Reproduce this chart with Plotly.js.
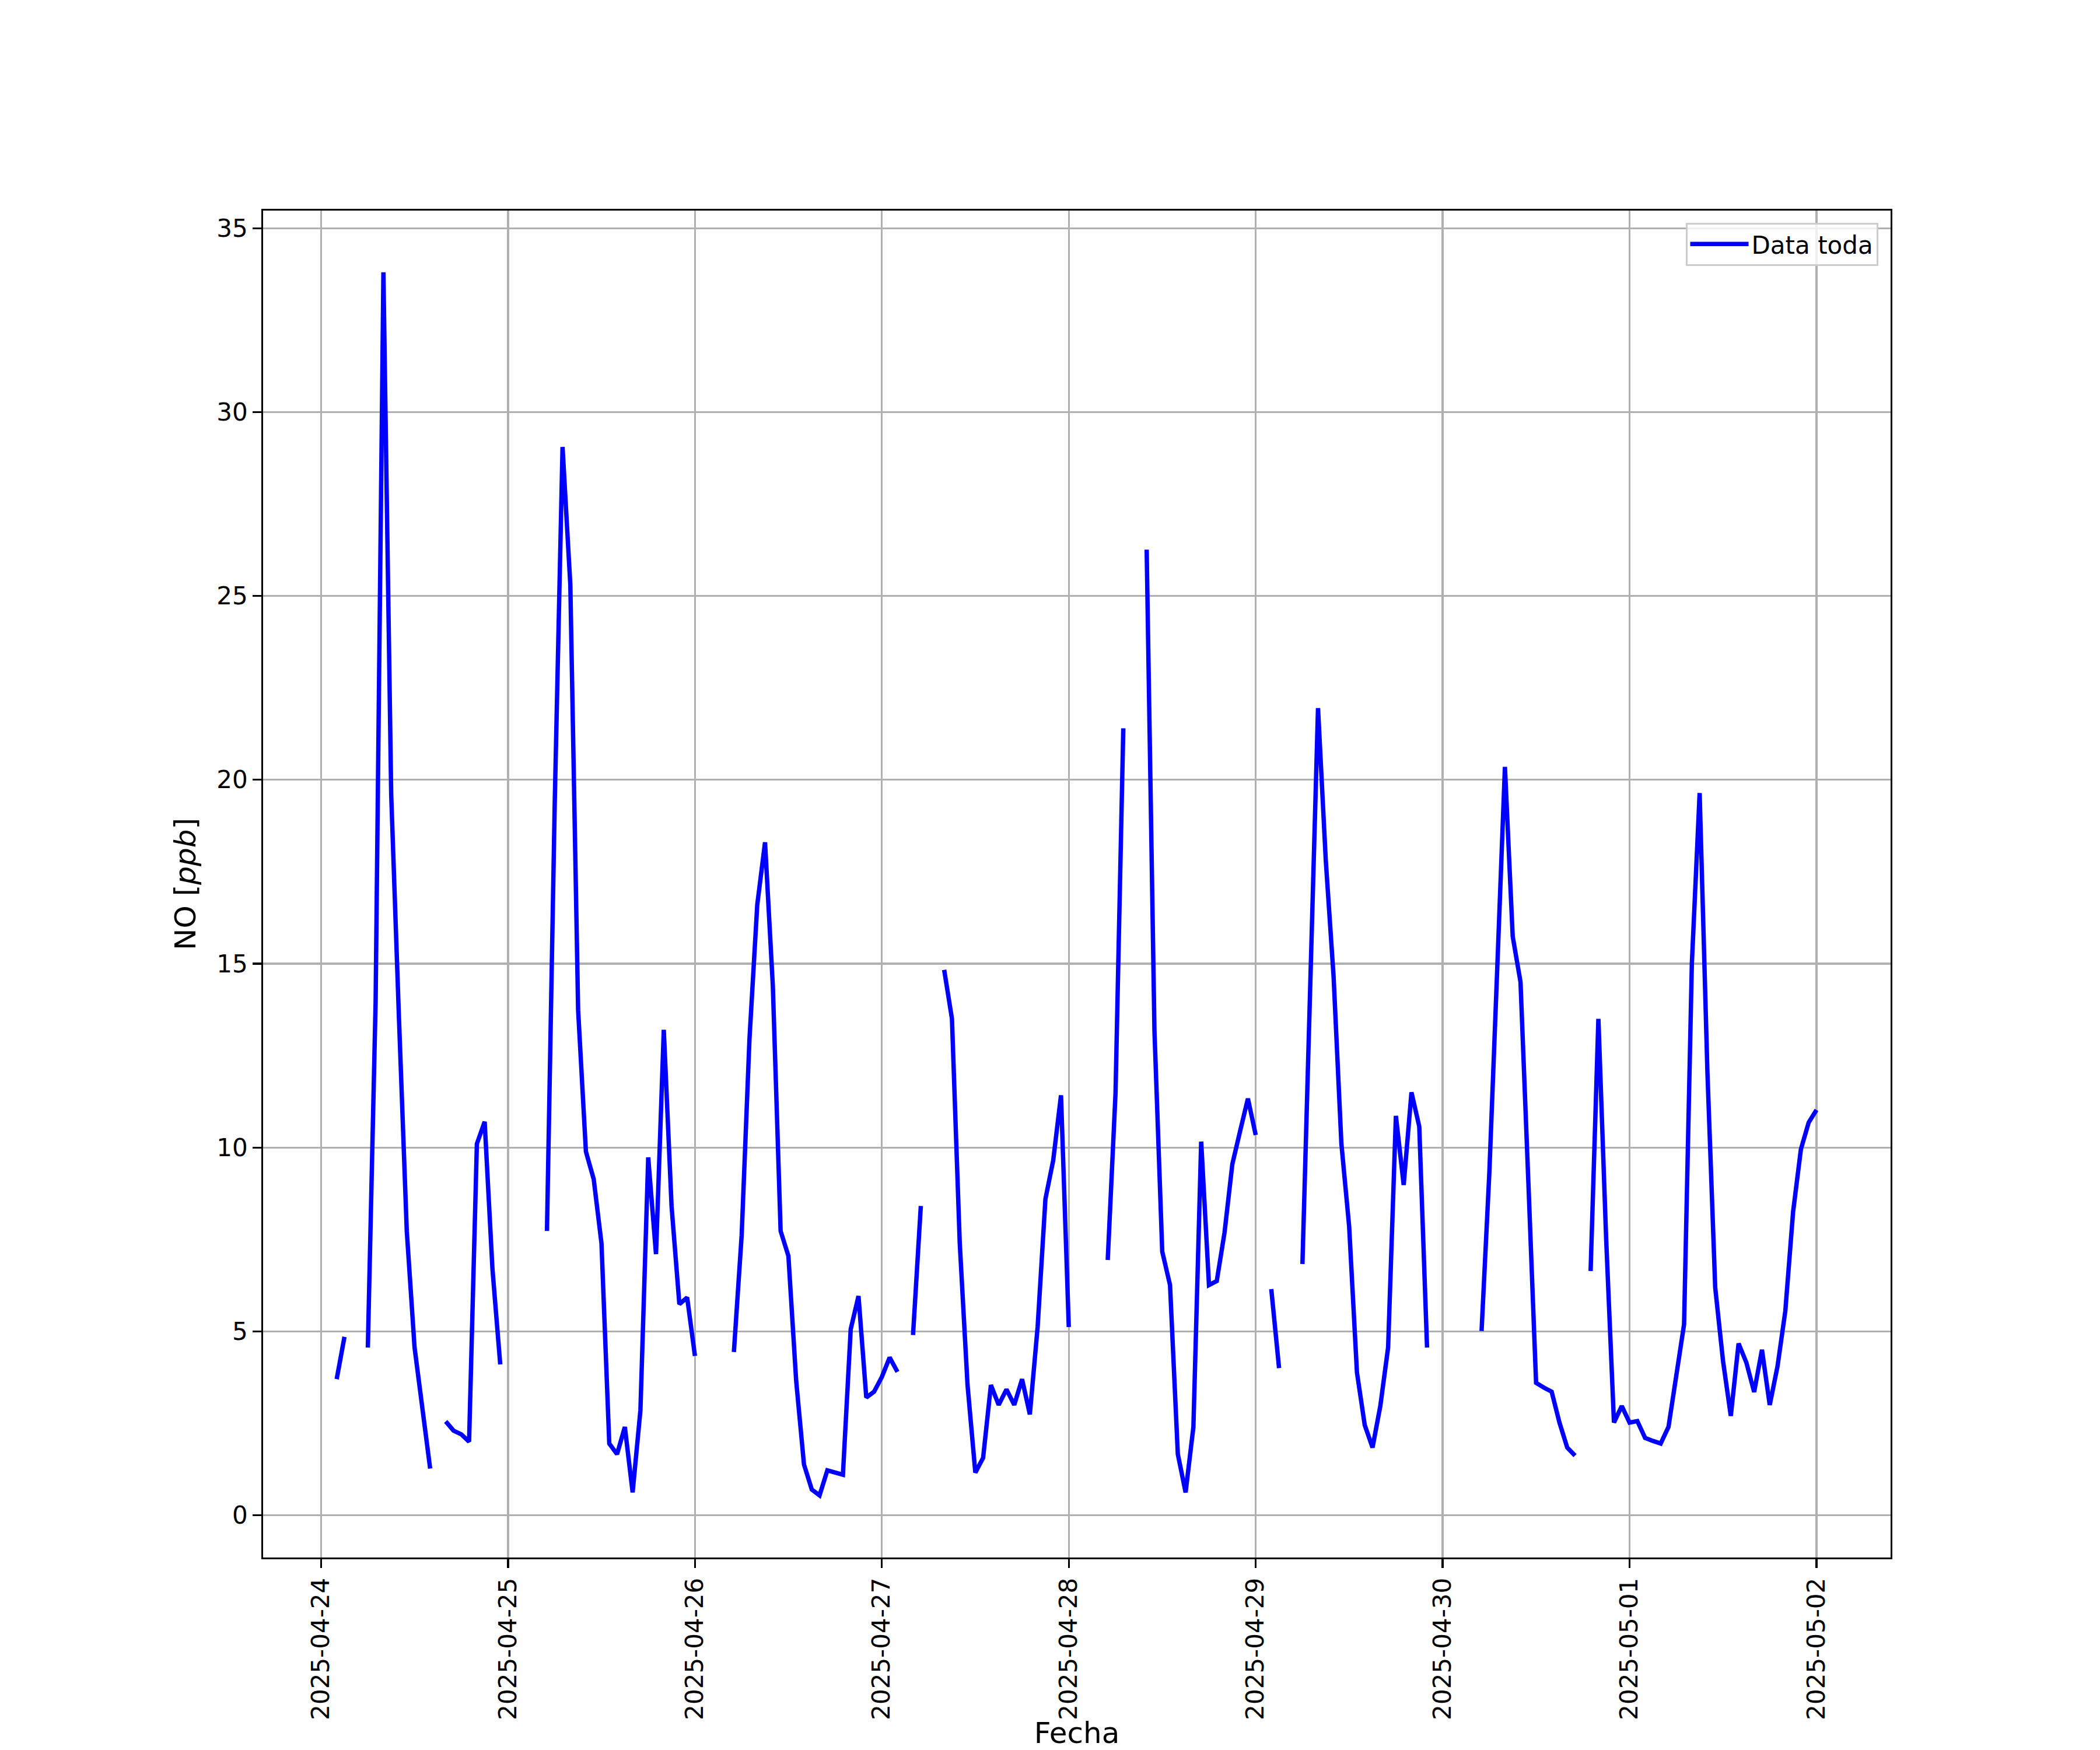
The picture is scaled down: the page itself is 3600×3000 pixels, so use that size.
<!DOCTYPE html>
<html>
<head>
<meta charset="utf-8">
<script src="https://cdn.plot.ly/plotly-3.0.1.min.js"></script>
<style>html,body{margin:0;padding:0;background:#fff;}#plot{width:3600px;height:3000px;}</style>
</head>
<body>
<div id="plot"></div>
<script>
// Hourly NO [ppb] values, one array per day (hours 00..23); null = missing
const days = ['2025-04-24','2025-04-25','2025-04-26','2025-04-27','2025-04-28','2025-04-29','2025-04-30','2025-05-01','2025-05-02'];
const day0424 = [null, null, 3.7, 4.85, null, null, 4.56, 13.97, 33.8, 19.6, 13.5, 7.73, 4.56, 2.97, 1.27, null, 2.55, 2.3, 2.2, 2.0, 10.1, 10.7, 6.7, 4.1];
const day0425 = [null, null, null, null, null, 7.73, 19.4, 29.05, 25.3, 13.74, 9.89, 9.14, 7.39, 1.95, 1.66, 2.4, 0.62, 2.86, 9.73, 7.1, 13.2, 8.4, 5.74, 5.92];
const day0426 = [4.33, null, null, null, null, 4.44, 7.62, 12.95, 16.6, 18.3, 14.4, 7.73, 7.05, 3.65, 1.38, 0.7, 0.54, 1.22, 1.16, 1.1, 5.06, 5.96, 3.2, 3.36];
const day0427 = [3.76, 4.29, 3.9, null, 4.9, 8.41, null, null, 14.83, 13.5, 7.4, 3.54, 1.16, 1.56, 3.54, 3.0, 3.42, 3.0, 3.7, 2.74, 5.12, 8.6, 9.65, 11.42];
const day0428 = [5.12, null, null, null, null, 6.94, 11.47, 21.4, null, null, 26.26, 13.17, 7.17, 6.26, 1.66, 0.62, 2.4, 10.16, 6.26, 6.37, 7.69, 9.55, 10.45, 11.33];
const day0429 = [10.34, null, 6.15, 4.0, null, null, 6.83, 14.4, 21.95, 17.8, 14.65, 10.11, 7.85, 3.88, 2.45, 1.84, 2.97, 4.56, 10.86, 8.98, 11.5, 10.57, 4.56, null];
const day0430 = [null, null, null, null, null, 5.01, 9.32, 14.8, 20.35, 15.74, 14.5, 9.1, 3.6, 3.47, 3.36, 2.52, 1.84, 1.62, null, 6.64, 13.5, 7.5, 2.52, 2.97];
const day0501 = [2.52, 2.56, 2.1, 2.02, 1.95, 2.4, 3.88, 5.19, 15.0, 19.64, 12.04, 6.19, 4.2, 2.7, 4.67, 4.15, 3.35, 4.5, 3.0, 4.05, 5.55, 8.25, 9.95, 10.68];
const day0502 = [11.02];

const dayValues = [day0424, day0425, day0426, day0427, day0428, day0429, day0430, day0501, day0502];
const seriesName = 'Data toda';
const xTitle = 'Fecha';
const yTitle = 'NO [<i>ppb</i>]';

const xs = [], ys = [];
dayValues.forEach((arr, d) => {
  arr.forEach((v, h) => {
    xs.push(days[d] + ' ' + String(h).padStart(2, '0') + ':00');
    ys.push(v);
  });
});

const FONT = 'DejaVu Sans, sans-serif';
const trace = {
  x: xs, y: ys, type: 'scatter', mode: 'lines', name: seriesName,
  line: {color: '#0000ff', width: 7.5}, connectgaps: false, showlegend: true
};

const layout = {
  width: 3600, height: 3000,
  paper_bgcolor: '#ffffff', plot_bgcolor: '#ffffff',
  margin: {l: 451, r: 359, t: 361, b: 330, pad: 0},
  font: {family: FONT, size: 42, color: '#000000'},
  showlegend: true,
  xaxis: {
    type: 'date',
    range: ['2025-04-23 16:33', '2025-05-02 09:31'],
    tick0: '2025-04-24', dtick: 86400000, tickformat: '%Y-%m-%d',
    tickangle: -90,
    showgrid: true, gridcolor: '#b0b0b0', gridwidth: 3.3,
    zeroline: false,
    showline: true, linecolor: '#000000', linewidth: 3.3, mirror: true,
    ticks: 'outside', ticklen: 14.6, tickwidth: 3.3, tickcolor: '#000000',
    tickfont: {family: FONT, size: 42, color: '#000000'},
    automargin: false,
    title: {text: xTitle, font: {family: FONT, size: 50, color: '#000000'}, standoff: 26}
  },
  yaxis: {
    range: [-1.15, 35.48],
    tickmode: 'linear', tick0: 0, dtick: 5,
    showgrid: true, gridcolor: '#b0b0b0', gridwidth: 3.3,
    zeroline: false,
    showline: true, linecolor: '#000000', linewidth: 3.3, mirror: true,
    ticks: 'outside', ticklen: 14.6, tickwidth: 3.3, tickcolor: '#000000',
    tickfont: {family: FONT, size: 42, color: '#000000'},
    automargin: false,
    title: {text: yTitle, font: {family: FONT, size: 50, color: '#000000'}, standoff: 20}
  },
  legend: {
    x: 0.9923, xanchor: 'right', y: 0.9911, yanchor: 'top',
    bgcolor: 'rgba(255,255,255,0.8)', bordercolor: '#cccccc', borderwidth: 3,
    itemwidth: 100,
    font: {family: FONT, size: 42, color: '#000000'}
  }
};

Plotly.newPlot('plot', [trace], layout, {staticPlot: true, displayModeBar: false});
</script>
</body>
</html>
